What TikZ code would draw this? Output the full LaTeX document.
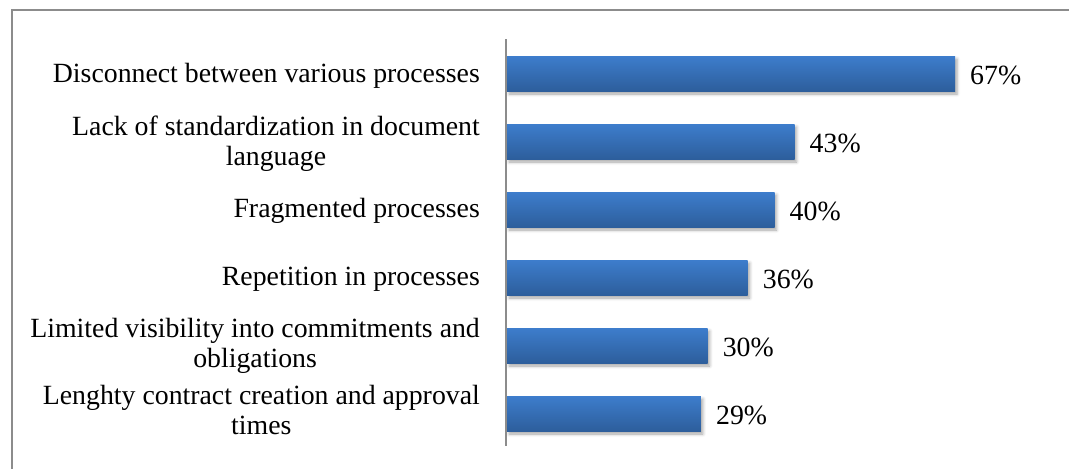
\documentclass[tikz,border=0pt]{standalone}
\usepackage{fontspec}
\setmainfont{Liberation Serif}
\usetikzlibrary{shadows.blur}
\definecolor{frame}{HTML}{8C8C8C}
\definecolor{bartop}{HTML}{3D7DCC}
\definecolor{barbot}{HTML}{2D5E9C}
\tikzset{
  chartbar/.style={rectangle, inner sep=0pt, outer sep=0pt, minimum height=35pt,
    top color=bartop, bottom color=barbot, draw=none,
    blur shadow={shadow xshift=2pt, shadow yshift=-3pt, shadow blur radius=3pt, shadow opacity=35}},
  pct/.style={inner sep=0pt, anchor=west, font=\fontsize{27.8pt}{28pt}\selectfont},
  cat/.style={inner sep=0pt, anchor=east, align=center, font=\fontsize{27.8pt}{30pt}\selectfont},
  frameline/.style={draw=frame, line width=2pt},
}
\begin{document}
\begin{tikzpicture}[x=1pt, y=-1pt]
\useasboundingbox (0,0) rectangle (1069,469);
% frame (top and left)
\coordinate (ftr) at (1069,10);
\coordinate (ftl) at (12,10);
\coordinate (fbl) at (12,469);
\draw[frameline] (ftr) -- (ftl) -- (fbl);
% bars
\node[chartbar, minimum width=448pt, anchor=west] (b1) at (507,73.5) {};
\node[chartbar, minimum width=287.5pt, anchor=west] (b2) at (507,141.5) {};
\node[chartbar, minimum width=267.5pt, anchor=west] (b3) at (507,209.5) {};
\node[chartbar, minimum width=240.7pt, anchor=west] (b4) at (507,277.5) {};
\node[chartbar, minimum width=200.6pt, anchor=west] (b5) at (507,345.5) {};
\node[chartbar, minimum width=193.9pt, anchor=west] (b6) at (507,413.5) {};
% axis
\coordinate (axt) at (506,39);
\coordinate (axb) at (506,446);
\draw[frameline] (axt) -- (axb);
% value labels
\node[pct] (p1) at ([xshift=15pt,yshift=-1.5pt]b1.east) {67\%};
\node[pct] (p2) at ([xshift=15pt,yshift=-1.5pt]b2.east) {43\%};
\node[pct] (p3) at ([xshift=15pt,yshift=-1.5pt]b3.east) {40\%};
\node[pct] (p4) at ([xshift=15pt,yshift=-1.5pt]b4.east) {36\%};
\node[pct] (p5) at ([xshift=15pt,yshift=-1.5pt]b5.east) {30\%};
\node[pct] (p6) at ([xshift=15pt,yshift=-1.5pt]b6.east) {29\%};
% category labels
\node[cat] (c1) at (480,75.5) {Disconnect between various processes};
\node[cat] (c2) at (480,143.5) {Lack of standardization in document\\language};
\node[cat] (c3) at (480,211) {Fragmented processes};
\node[cat] (c4) at (480,279) {Repetition in processes};
\node[cat] (c5) at (480,345.5) {Limited visibility into commitments and\\obligations};
\node[cat] (c6) at (480,409.5) {Lenghty contract creation and approval\\times};
\end{tikzpicture}
\end{document}
